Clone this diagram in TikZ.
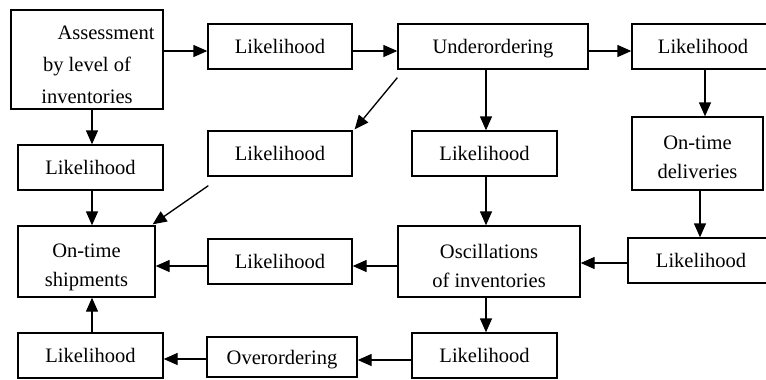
\documentclass[tikz,border=0pt]{standalone}
\usepackage{fontspec}
\setmainfont{Liberation Serif}
\usetikzlibrary{arrows.meta,calc}
\newcommand\dnline[2]{\raisebox{-#1}[\height][\depth]{#2}}
\begin{document}
\begin{tikzpicture}[x=0.75pt,y=-0.75pt,
  bx/.style 2 args={draw,line width=1pt,rectangle,inner sep=0pt,
    minimum width=#1*0.75pt,minimum height=#2*0.75pt,align=center,text depth=0pt,
    font=\fontsize{15.4pt}{21.75pt}\selectfont},
  arr/.style={line width=1pt,-{Triangle[length=10.5pt,width=9pt]}}]
\useasboundingbox (0,0) rectangle (766,379);
% nodes (multi-line texts sit slightly low in their boxes)
\node[bx={152}{99},font=\fontsize{15.4pt}{23.75pt}\selectfont] (A) at (87,59.5) {\dnline{4pt}{\hspace*{28.5pt}Assessment}\\\dnline{4pt}{by level of}\\\dnline{4pt}{inventories}};
\node[bx={144}{45}] (L1) at (280,46.5) {Likelihood};
\node[bx={190}{45}] (U) at (493,46.5) {Underordering};
\node[bx={142}{45}] (L2) at (703,46.5) {Likelihood};
\node[bx={131}{73}] (D) at (697.5,153.5) {\dnline{3pt}{On-time}\\\dnline{3pt}{deliveries}};
\node[bx={145}{45}] (L3) at (90.5,167.5) {Likelihood};
\node[bx={144}{45}] (L4) at (280,153.5) {Likelihood};
\node[bx={145}{45}] (L5) at (484.5,153.5) {Likelihood};
\node[bx={137}{71}] (S) at (86.5,261.5) {\dnline{3pt}{On-time}\\\dnline{3pt}{shipments}};
\node[bx={144}{45}] (L6) at (280,261.5) {Likelihood};
\node[bx={182}{71}] (O) at (489,261.5) {\dnline{3pt}{Oscillations}\\\dnline{3pt}{of inventories}};
\node[bx={146}{45}] (L7) at (701,260.5) {Likelihood};
\node[bx={145}{45}] (L8) at (90.5,355.5) {Likelihood};
\node[bx={150}{40}] (Ov) at (282,357) {Overordering};
\node[bx={145}{45}] (L9) at (484.5,355.5) {Likelihood};
% connectors
\draw[arr] (A.east |- 0,51) -- (L1.west |- 0,51);
\draw[arr] (L1.east |- 0,51) -- (U.west |- 0,51);
\draw[arr] (U.east |- 0,51) -- (L2.west |- 0,51);
\draw[arr] (L2.south -| 705,0) -- (D.north -| 705,0);
\draw[arr] (U.south -| 486,0) -- (L5.north -| 486,0);
\draw[arr] ($(U.south west)+(0,8)$) -- ($(L4.north east)+(2,-1)$);
\draw[arr] (A.south -| 92,0) -- (L3.north -| 92,0);
\draw[arr] (L3.south -| 92,0) -- (S.north -| 92,0);
\draw[arr] ($(L4.south west)+(1,9)$) -- ($(S.north east)+(-3,-1)$);
\draw[arr] (L5.south -| 486,0) -- (O.north -| 486,0);
\draw[arr] (D.south -| 700,0) -- (L7.north -| 700,0);
\draw[arr] (L7.west |- 0,263) -- (O.east |- 0,263);
\draw[arr] (O.west |- 0,266) -- (L6.east |- 0,266);
\draw[arr] (L6.west |- 0,266) -- (S.east |- 0,266);
\draw[arr] (O.south -| 486,0) -- (L9.north -| 486,0);
\draw[arr] (L9.west |- 0,360) -- (Ov.east |- 0,360);
\draw[arr] (Ov.west |- 0,359) -- (L8.east |- 0,359);
\draw[arr] (L8.north -| 92,0) -- (S.south -| 92,0);
\end{tikzpicture}
\end{document}
